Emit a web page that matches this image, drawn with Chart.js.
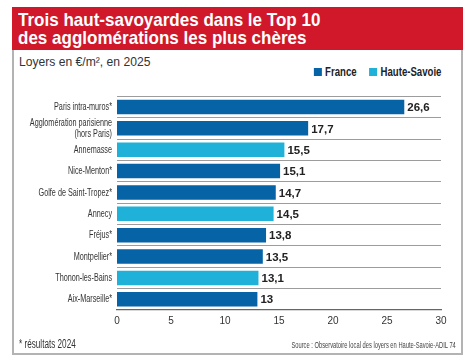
<!DOCTYPE html>
<html lang="fr">
<head>
<meta charset="utf-8">
<script src="https://cdn.jsdelivr.net/npm/chart.js@4/dist/chart.umd.min.js"></script>
<style>
  body { margin: 0; background: #fff; }
  #page { position: relative; width: 470px; height: 363px; overflow: hidden;
          font-family: "Liberation Sans", Arial, sans-serif; }
  #frame { position: absolute; left: 12px; top: 7px; width: 447px; height: 346px;
           border: 2px solid #b3b3b3; border-top: none; }
  #title { position: absolute; left: 12px; top: 7px; width: 451px; height: 43px; background: #d0182a;
           box-sizing: border-box; padding: 4px 0 0 6px; }
  #title span { display: block; color: #fff; font-weight: bold; font-size: 18.5px; line-height: 18px;
                white-space: nowrap; transform: scaleX(0.92); transform-origin: left top; }
  #subtitle { position: absolute; left: 19px; top: 55px; color: #333; font-size: 12.5px;
              transform: scaleX(0.97); transform-origin: left top; white-space: nowrap; }
  #legend { position: absolute; right: 29px; top: 65px; display: flex; align-items: center;
            transform: scaleX(0.8); transform-origin: right center; white-space: nowrap; }
  #legend .box { width: 10px; height: 8px; margin-right: 4px; }
  #legend .txt { font-weight: bold; font-size: 12px; color: #222; margin-right: 16px; }
  #legend .txt:last-child { margin-right: 0; }
  #note { position: absolute; left: 19px; top: 337px; color: #333; font-size: 12px;
          transform: scaleX(0.68); transform-origin: left top; white-space: nowrap; }
  #source { position: absolute; right: 14px; top: 340px; color: #444; font-size: 9px;
            transform: scaleX(0.64); transform-origin: right top; white-space: nowrap; }
  #wrap { position: absolute; left: 14px; top: 86px; width: 446px; height: 268px; }
</style>
</head>
<body>
<div id="page">
  <div id="frame"></div>
  <div id="title"><span>Trois haut-savoyardes dans le Top 10<br>des agglomérations les plus chères</span></div>
  <div id="subtitle">Loyers en €/m², en 2025</div>
  <div id="legend"></div>
  <div id="wrap"><canvas id="rentChart"></canvas></div>
  <div id="note">* résultats 2024</div>
  <div id="source">Source : Observatoire local des loyers en Haute-Savoie-ADIL 74</div>
</div>
<script>
// Rents per agglomeration, euros per m2
const categories = [
    'Paris intra-muros*',
    ['Agglomération parisienne', '(hors Paris)'],
    'Annemasse',
    'Nice-Menton*',
    'Golfe de Saint-Tropez*',
    'Annecy',
    'Fréjus*',
    'Montpellier*',
    'Thonon-les-Bains',
    'Aix-Marseille*'
];
const values = [26.6, 17.7, 15.5, 15.1, 14.7, 14.5, 13.8, 13.5, 13.1, 13];
const regions = ['France', 'France', 'Haute-Savoie', 'France', 'France',
                 'Haute-Savoie', 'France', 'France', 'Haute-Savoie', 'France'];
const seriesNames = ['France', 'Haute-Savoie'];
const xTicks = [0, 5, 10, 15, 20, 25, 30];

const colors = { 'France': '#0563a6', 'Haute-Savoie': '#1fb1d8' };
const sans = '"Liberation Sans", Arial, sans-serif';

// Draw the value at the end of each bar
const valueLabels = {
    id: 'valueLabels',
    afterDatasetsDraw(chart) {
        const ctx = chart.ctx;
        ctx.save();
        ctx.font = 'bold 11.5px ' + sans;
        ctx.fillStyle = '#222';
        ctx.textBaseline = 'middle';
        ctx.textAlign = 'left';
        chart.data.datasets.forEach((ds, i) => {
            chart.getDatasetMeta(i).data.forEach((bar, j) => {
                const v = ds.data[j];
                if (v === null) return;
                ctx.fillText(String(v).replace('.', ','), bar.x + 3, bar.y + 1);
            });
        });
        ctx.restore();
    }
};

// No condensed font available: squeeze the category labels horizontally
const condensedTicks = {
    id: 'condensedTicks',
    beforeDraw(chart) {
        const y = chart.scales.y;
        if (y._condensed) return;
        const drawLabels = y.drawLabels.bind(y);
        y._computeLabelArea = () => undefined; // no clipping, the text is squeezed anyway
        y.drawLabels = function (area) {
            const ctx = this.ctx;
            const ax = this.right - this.options.ticks.padding;
            ctx.save();
            ctx.translate(ax, 0);
            ctx.scale(0.63, 1);
            ctx.translate(-ax, 0);
            drawLabels(area);
            ctx.restore();
        };
        y._condensed = true;
    }
};

const datasets = seriesNames.map(name => ({
    label: name,
    data: values.map((v, i) => regions[i] === name ? v : null),
    backgroundColor: colors[name],
    borderWidth: 0,
    grouped: false,
    barPercentage: 0.68,
    categoryPercentage: 1
}));

const rentChart = new Chart(document.getElementById('rentChart'), {
    type: 'bar',
    data: { labels: categories, datasets: datasets },
    options: {
        indexAxis: 'y',
        responsive: true,
        maintainAspectRatio: false,
        animation: false,
        layout: { padding: { top: 6, right: 19, bottom: 0, left: 0 } },
        plugins: {
            legend: { display: false },
            tooltip: { enabled: false }
        },
        scales: {
            x: {
                min: 0,
                max: 30,
                afterBuildTicks: scale => { scale.ticks = xTicks.map(v => ({ value: v })); },
                grid: { display: false, drawTicks: false },
                border: { display: true, color: '#666', width: 1.2 },
                ticks: { color: '#333', padding: 5, font: { family: sans, size: 10 } },
                afterFit: scale => { scale.height = 44; }
            },
            y: {
                grid: { offset: true, color: '#9c9c9c', lineWidth: 1, drawTicks: false },
                border: { display: false },
                ticks: {
                    autoSkip: false,
                    color: '#333',
                    padding: 5,
                    font: { family: sans, size: 11.5, lineHeight: 0.92 }
                },
                afterFit: scale => { scale.width = 103; }
            }
        }
    },
    plugins: [valueLabels, condensedTicks]
});

// HTML legend built from the datasets
const legendEl = document.getElementById('legend');
rentChart.data.datasets.forEach(ds => {
    const box = document.createElement('span');
    box.className = 'box';
    box.style.background = ds.backgroundColor;
    const txt = document.createElement('span');
    txt.className = 'txt';
    txt.textContent = ds.label;
    legendEl.appendChild(box);
    legendEl.appendChild(txt);
});
</script>
</body>
</html>
